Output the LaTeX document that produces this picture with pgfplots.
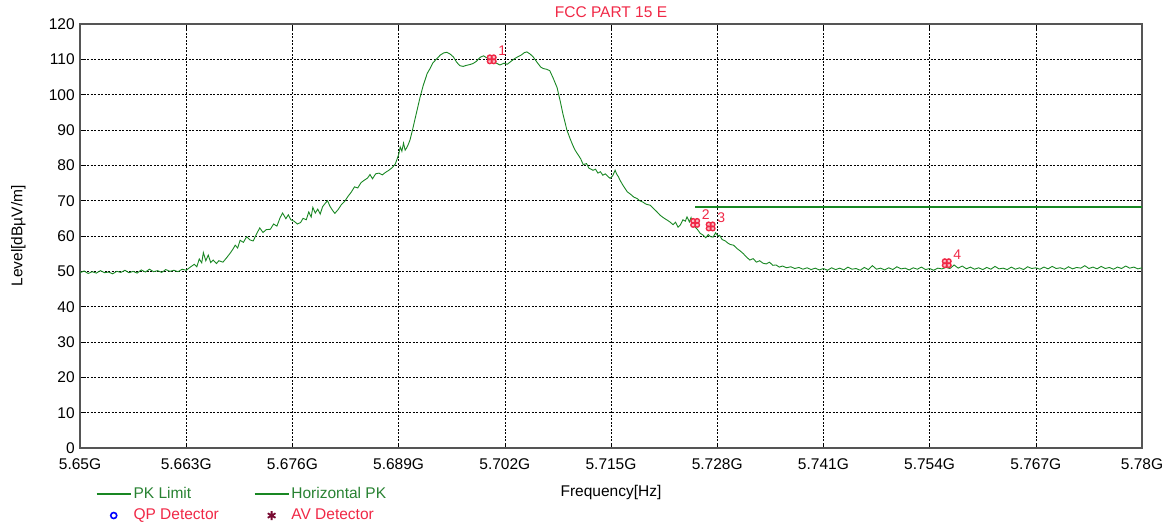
\documentclass[border=0pt]{standalone}
\usepackage{fontspec}
\setmainfont{Liberation Sans}
\usepackage{pgfplots}
\pgfplotsset{compat=1.18}
\definecolor{trace}{RGB}{25,135,35}
\definecolor{lblgreen}{RGB}{40,130,50}
\definecolor{mkred}{RGB}{240,40,70}
\definecolor{avred}{RGB}{120,10,50}
\definecolor{framegray}{RGB}{85,85,85}

% red four-leaf marker used by the analyser
\pgfdeclareplotmark{clover}{%
  \pgfpathcircle{\pgfqpoint{2pt}{2pt}}{2.3pt}%
  \pgfpathcircle{\pgfqpoint{-2pt}{2pt}}{2.3pt}%
  \pgfpathcircle{\pgfqpoint{2pt}{-2pt}}{2.3pt}%
  \pgfpathcircle{\pgfqpoint{-2pt}{-2pt}}{2.3pt}%
  \pgfusepathqfillstroke}

\pgfplotsset{
  marklegend/.style={legend image code/.code={%
    \draw[mark repeat=2,mark phase=2,##1] plot coordinates {(0pt,0pt) (17pt,0pt) (34pt,0pt)};}},
  linelegend/.style={legend image code/.code={%
    \draw[##1] (0pt,0pt) -- (34pt,0pt);}},
}

\begin{document}
\fontsize{15.5}{17}\selectfont
\begin{tikzpicture}
\begin{axis}[
  name=ax,
  scale only axis,
  width=1062pt, height=424pt,
  xmin=5650, xmax=5780, ymin=0, ymax=120,
  xtick={5650,5663,5676,5689,5702,5715,5728,5741,5754,5767,5780},
  xticklabels={5.65G,5.663G,5.676G,5.689G,5.702G,5.715G,5.728G,5.741G,5.754G,5.767G,5.78G},
  ytick={0,10,20,30,40,50,60,70,80,90,100,110,120},
  /pgf/number format/assume math mode=true,
  tick label style={font=\fontsize{15.5}{17}\selectfont},
  xticklabel style={yshift=-5pt},
  grid=major,
  major grid style={black, line width=0.6pt, dash pattern=on 2pt off 1.5pt},
  axis line style={framegray, line width=1.4pt},
  tick align=inside, major tick length=5pt,
  tick style={black, line width=0.6pt},
  title={\textcolor{mkred}{FCC PART 15 E}},
  title style={at={(0.5,1)}, anchor=south, yshift=-5pt, font=\fontsize{15.5}{17}\selectfont},
  xlabel={Frequency[Hz]},
  xlabel style={at={(axis description cs:0.5,-0.104)}, anchor=center, font=\fontsize{15.5}{17}\selectfont},
  ylabel={Level[dBµV/m]},
  ylabel style={at={(axis description cs:-0.058,0.5)}, anchor=center, rotate=0, font=\fontsize{15.5}{17}\selectfont},
  legend columns=2,
  legend cell align=left,
  legend style={at={(axis description cs:0.012,-0.083)}, anchor=north west,
    draw=none, fill=none, font=\fontsize{15.5}{17}\selectfont,
    row sep=4pt,
    /tikz/column 2/.style={column sep=33pt}},
]
\addlegendimage{linelegend, trace, line width=1.6pt}
\addlegendentry{\textcolor{lblgreen}{PK Limit}}
\addlegendimage{linelegend, trace, line width=1.6pt}
\addlegendentry{\textcolor{lblgreen}{Horizontal PK}}
\addlegendimage{marklegend, only marks, mark=o, blue, mark size=3pt, line width=1.6pt}
\addlegendentry{\textcolor{mkred}{QP Detector}}
\addlegendimage{marklegend, only marks, mark=asterisk, avred, mark size=4.5pt, line width=1.8pt}
\addlegendentry{\textcolor{mkred}{AV Detector}}

% limit line
\addplot[trace, line width=1.4pt, forget plot] coordinates {(5725.3,68.2) (5780,68.2)};

% horizontal peak trace
\addplot[trace, line width=0.9pt, forget plot] table {
f lvl
5650 49.6
5650.5 50.1
5651 49.4
5651.5 49.9
5652 49.5
5652.5 50.2
5653 49.6
5653.5 49.8
5654 49.3
5654.5 50.0
5655 49.7
5655.5 50.3
5656 49.6
5656.5 50.0
5657 49.5
5657.5 50.4
5658 49.8
5658.5 50.6
5659 49.9
5659.5 50.2
5660 49.7
5660.5 50.5
5661 50.0
5661.5 50.3
5662 49.9
5662.5 50.6
5663 50.3
5663.5 51.2
5664 52.0
5664.3 51.3
5664.6 53.5
5664.9 52.4
5665.1 55.3
5665.4 53.0
5665.7 54.6
5666.0 52.5
5666.3 53.2
5666.7 52.2
5667.0 53.0
5667.5 52.6
5668.0 54.0
5668.4 55.2
5668.7 56.2
5669.0 57.4
5669.3 56.6
5669.6 58.8
5670.0 58.2
5670.4 59.8
5670.8 58.9
5671.2 58.6
5671.6 60.5
5672.0 62.3
5672.4 61.0
5672.8 61.8
5673.3 61.9
5673.7 63.4
5674.1 62.8
5674.5 65.2
5674.8 66.5
5675.2 64.9
5675.5 66.0
5675.8 64.6
5676.2 64.2
5676.6 63.4
5677.0 63.8
5677.3 65.0
5677.7 64.6
5678.0 66.8
5678.3 65.4
5678.5 68.1
5678.8 66.5
5679.1 67.6
5679.4 66.2
5679.7 68.3
5680.0 69.2
5680.3 70.0
5680.6 68.4
5680.9 67.3
5681.2 66.4
5681.6 67.5
5682.0 68.9
5682.4 69.8
5682.8 71.2
5683.2 72.4
5683.6 73.9
5684.0 73.6
5684.4 75.1
5684.8 75.8
5685.2 76.4
5685.5 77.4
5685.8 76.2
5686.2 77.6
5686.6 77.8
5687.0 77.3
5687.4 78.0
5687.8 78.6
5688.2 79.3
5688.6 80.4
5689.0 83.0
5689.2 85.2
5689.4 84.0
5689.6 86.3
5689.8 84.3
5690.0 85.0
5690.2 86.0
5690.4 87.2
5690.7 90.0
5691.0 93.0
5691.3 96.0
5691.6 99.0
5692.0 102.5
5692.5 106.0
5692.9 107.6
5693.2 109.0
5693.6 110.0
5694.1 111.2
5694.5 111.8
5694.9 112.0
5695.3 111.5
5695.7 110.7
5696.1 109.2
5696.5 108.2
5696.9 108.0
5697.3 108.3
5697.7 108.5
5698.1 108.8
5698.5 109.4
5699.0 110.6
5699.4 111.0
5699.8 110.4
5700.4 110.0
5700.9 109.0
5701.4 108.4
5701.9 108.9
5702.3 108.6
5702.8 109.5
5703.2 110.2
5703.5 110.6
5704.0 111.2
5704.4 111.9
5704.7 112.1
5705.1 111.5
5705.5 110.6
5706.0 109.0
5706.4 107.8
5706.7 107.4
5707.1 107.2
5707.5 106.8
5707.9 104.8
5708.4 102.0
5708.8 98.0
5709.1 94.7
5709.6 90.0
5710.0 87.5
5710.3 85.8
5710.6 84.3
5711.0 82.9
5711.3 81.8
5711.6 80.2
5712.0 80.5
5712.3 79.2
5712.8 78.6
5713.1 78.9
5713.4 77.8
5713.7 78.2
5714.0 77.2
5714.3 77.6
5714.6 76.9
5714.9 76.3
5715.2 77.0
5715.5 78.6
5715.7 77.5
5715.9 76.8
5716.1 75.8
5716.5 74.2
5717.0 72.5
5717.4 71.8
5717.8 71.0
5718.2 70.6
5718.5 70.0
5718.9 69.6
5719.3 69.0
5719.8 68.7
5720.2 67.8
5720.6 66.9
5721.0 65.9
5721.4 65.2
5721.8 64.6
5722.2 64.0
5722.6 63.2
5722.9 63.9
5723.2 62.5
5723.5 63.2
5723.8 64.6
5724.1 64.2
5724.3 65.4
5724.6 64.0
5724.8 65.2
5725.0 63.6
5725.3 62.5
5725.6 61.8
5725.9 60.8
5726.3 60.2
5726.6 59.5
5726.9 60.4
5727.2 59.8
5727.5 59.7
5727.8 60.9
5728.1 60.0
5728.3 60.2
5728.6 59.0
5729.0 58.6
5729.3 58.0
5729.6 57.6
5730.0 57.4
5730.4 56.5
5730.8 55.8
5731.2 55.0
5731.6 54.0
5732.0 53.2
5732.4 53.6
5732.8 52.6
5733.2 53.0
5733.6 52.3
5734.0 52.1
5734.4 52.6
5734.8 51.7
5735.2 51.8
5735.6 51.2
5736.0 51.5
5736.5 51.0
5737.0 51.3
5737.5 50.8
5738.0 51.1
5738.5 50.6
5739.0 51.0
5739.5 50.5
5740.0 50.9
5740.5 50.4
5741.0 50.8
5741.5 50.3
5742.0 51.0
5742.5 50.5
5743.0 50.9
5743.5 50.4
5744.0 51.2
5744.5 50.6
5745.0 50.8
5745.5 50.3
5746.0 51.1
5746.5 50.5
5747.0 51.6
5747.5 50.6
5748.0 50.9
5748.5 50.4
5749.0 51.0
5749.5 50.5
5750.0 51.3
5750.5 50.7
5751.0 50.9
5751.5 50.4
5752.0 51.0
5752.5 50.6
5753.0 51.2
5753.5 50.5
5754.0 50.8
5754.5 50.3
5755.0 50.9
5755.5 50.7
5756.0 51.1
5756.5 50.8
5757.0 51.8
5757.5 50.9
5758.0 51.5
5758.5 50.7
5759.0 51.2
5759.5 50.6
5760.0 51.0
5760.5 50.5
5761.0 51.1
5761.5 50.6
5762.0 51.4
5762.5 50.7
5763.0 50.9
5763.5 50.5
5764.0 51.2
5764.5 50.6
5765.0 51.0
5765.5 50.5
5766.0 51.3
5766.5 50.8
5767.0 51.0
5767.5 50.6
5768.0 51.2
5768.5 50.7
5769.0 51.4
5769.5 50.8
5770.0 51.0
5770.5 50.6
5771.0 51.3
5771.5 50.7
5772.0 51.1
5772.5 50.9
5773.0 51.6
5773.5 50.8
5774.0 51.2
5774.5 50.7
5775.0 51.4
5775.5 50.8
5776.0 51.1
5776.5 50.6
5777.0 51.2
5777.5 50.8
5778.0 51.5
5778.5 50.9
5779.0 51.2
5779.5 50.7
5780.0 51.0
};

% marker points 1-4
\addplot[only marks, mark=clover, draw=mkred, fill=mkred!30, line width=1.4pt, forget plot,
  point meta=explicit symbolic,
  nodes near coords,
  every node near coord/.style={anchor=south west, inner sep=0pt, xshift=6pt, yshift=3pt,
    text=mkred, font=\fontsize{14}{16}\selectfont}]
  coordinates {
  (5700.4,110.0) [1]
  (5725.3,63.7) [2]
  (5727.2,62.7) [3]
  (5756.1,52.3) [4]
};
\end{axis}
\pgfresetboundingbox
\path[use as bounding box] ([xshift=-80pt,yshift=-77pt]ax.south west) rectangle ([xshift=28pt,yshift=24pt]ax.north east);
\end{tikzpicture}
\end{document}
